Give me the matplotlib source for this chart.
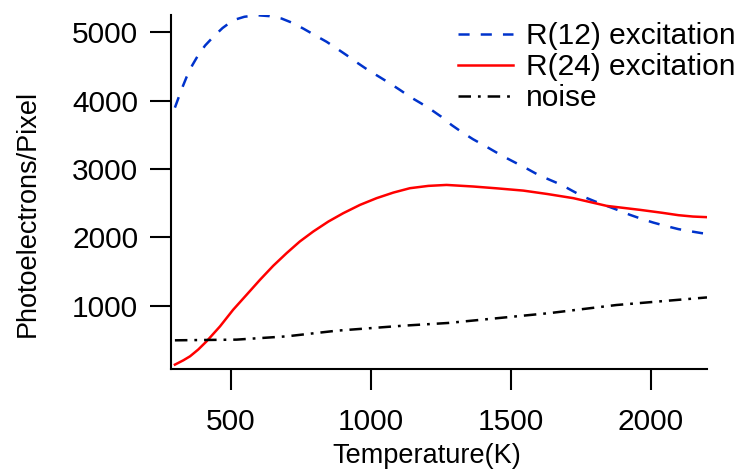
import matplotlib
matplotlib.use("Agg")
import matplotlib.pyplot as plt

plt.rcParams['font.family'] = ['Liberation Sans', 'DejaVu Sans']
plt.rcParams['lines.scale_dashes'] = False

# Data
temp_r12 = [300, 312, 327, 342, 362, 383, 408, 437, 470, 508, 548, 592, 636, 681, 720, 758,
            800, 842, 878, 913, 950, 990, 1030, 1068, 1105, 1139, 1180, 1217, 1250, 1288,
            1325, 1365, 1405, 1443, 1480, 1520, 1560, 1598, 1640, 1681, 1720, 1758, 1800,
            1842, 1885, 1925, 1965, 2008, 2050, 2098, 2140, 2181, 2200]
r12 = [3900, 4035, 4200, 4351, 4520, 4668, 4810, 4936, 5065, 5180, 5230, 5253, 5240, 5204,
       5140, 5058, 4960, 4863, 4765, 4668, 4560, 4449, 4350, 4254, 4155, 4059, 3960, 3864,
       3770, 3645, 3540, 3436, 3345, 3255, 3170, 3085, 3000, 2914, 2840, 2768, 2680, 2597,
       2527, 2461, 2395, 2330, 2273, 2217, 2170, 2121, 2090, 2062, 2055]

temp_r24 = [300, 330, 354, 383, 413, 461, 508, 556, 604, 651, 699, 746, 794, 848, 901,
            961, 1020, 1080, 1139, 1205, 1270, 1365, 1450, 1544, 1630, 1723, 1842, 1961,
            2040, 2098, 2150, 2200]
r24 = [137, 200, 259, 357, 478, 697, 941, 1160, 1380, 1584, 1770, 1940, 2086, 2232, 2354,
       2476, 2574, 2656, 2720, 2754, 2768, 2745, 2718, 2685, 2635, 2574, 2461, 2403,
       2360, 2325, 2305, 2296]

temp_noise = [300, 520, 699, 878, 1115, 1276, 1639, 1877, 2200]
noise = [493, 503, 551, 634, 707, 747, 892, 1010, 1121]

x_ticks = [500, 1000, 1500, 2000]
y_ticks = [1000, 2000, 3000, 4000, 5000]

W, H = 740, 476
fig = plt.figure(figsize=(W / 100, H / 100), dpi=100)
ax = fig.add_axes([171 / W, 1 - 369 / H, (707 - 171) / W, (369 - 15) / H])

lw = 1.8
ax.plot(temp_r12, r12, color='#0033cc', lw=lw, dashes=(8, 8), label='R(12) excitation')
ax.plot(temp_r24, r24, color='#ff0000', lw=lw, label='R(24) excitation')
ax.plot(temp_noise, noise, color='black', lw=lw, dashes=(9, 5, 2, 5), label='noise')

ax.set_xlim(286, 2200)
ax.set_ylim(73, 5256)
ax.set_xticks(x_ticks)
ax.set_yticks(y_ticks)

for s in ['top', 'right']:
    ax.spines[s].set_visible(False)
for s in ['left', 'bottom']:
    ax.spines[s].set_linewidth(1.5)

ax.tick_params(axis='both', direction='out', length=15, width=1.5, labelsize=21.5)
ax.tick_params(axis='x', pad=13)
ax.tick_params(axis='y', pad=8.5)

fig.text(427 / W, 1 - 463 / H, 'Temperature(K)', fontsize=19.5, ha='center', va='baseline')
fig.text(28 / W, 1 - 213 / H, 'Photoelectrons/Pixel', fontsize=19.5, ha='center', va='center',
         rotation=90)

leg = ax.legend(loc='upper left', bbox_to_anchor=(458 / W, 1 - 22 / H),
                bbox_transform=fig.transFigure, frameon=False, fontsize=21.5,
                handlelength=1.85, handletextpad=0.43, labelspacing=0.1,
                borderpad=0, borderaxespad=0)

fig.savefig('out.png', dpi=100)
